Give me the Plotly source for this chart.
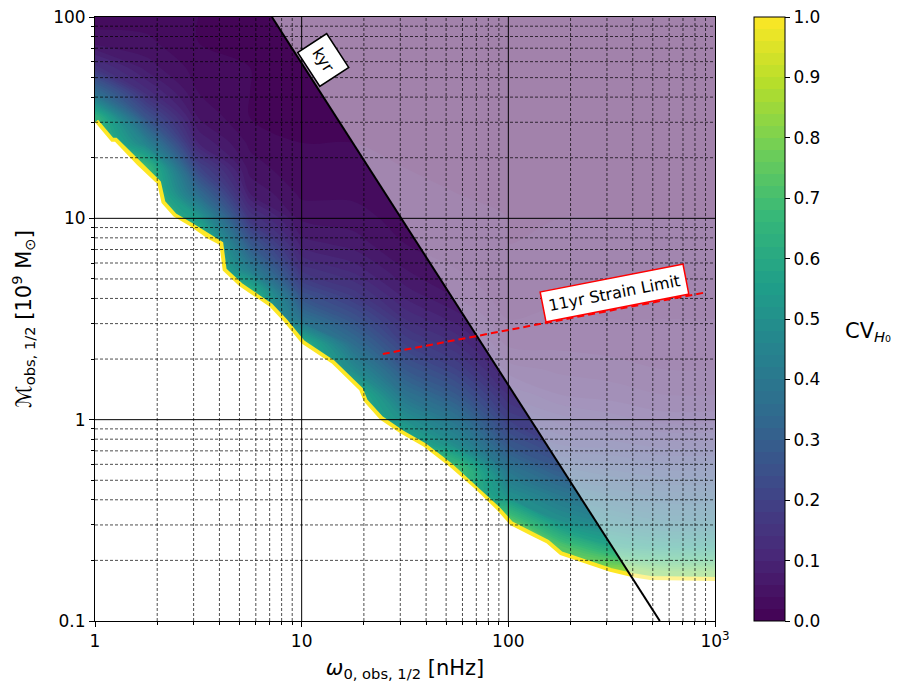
import numpy as np
import plotly.graph_objects as go

viridis_top = '#fde725'

# CV map grid (quarter decade in omega, eighth decade in mass)
omega_grid = [1.0, 1.778, 3.162, 5.623, 10.0, 17.78, 31.62, 56.23, 100.0, 177.8, 316.2, 562.3, 1000.0]
mass_grid = [0.1, 0.1334, 0.1778, 0.2371, 0.3162, 0.4217, 0.5623, 0.7499, 1.0, 1.334, 1.778, 2.371,
             3.162, 4.217, 5.623, 7.499, 10.0, 13.34, 17.78, 23.71, 31.62, 42.17, 56.23, 74.99, 100.0]

# CV_H0, one list per omega column, from M=0.1 up to M=100
# (cells under the white region only set the colour right at the edge)
cv_columns = [
    [0.7, 0.7, 0.7, 0.7, 0.7, 0.7, 0.7, 0.7, 0.7, 0.7, 0.7, 0.7, 0.7, 0.7, 0.7, 0.7, 0.7, 0.7, 0.7, 0.7, 0.66, 0.36, 0.15, 0.05, 0.03],
    [0.7, 0.7, 0.7, 0.7, 0.7, 0.7, 0.7, 0.7, 0.7, 0.7, 0.7, 0.7, 0.7, 0.7, 0.7, 0.7, 0.7, 0.7, 0.68, 0.44, 0.26, 0.13, 0.07, 0.045, 0.03],
    [0.7, 0.7, 0.7, 0.7, 0.7, 0.7, 0.7, 0.7, 0.7, 0.7, 0.7, 0.7, 0.7, 0.7, 0.7, 0.7, 0.54, 0.35, 0.21, 0.1, 0.06, 0.04, 0.03, 0.02, 0.02],
    [0.66, 0.66, 0.66, 0.66, 0.66, 0.66, 0.66, 0.66, 0.66, 0.66, 0.66, 0.66, 0.66, 0.66, 0.42, 0.28, 0.16, 0.08, 0.05, 0.035, 0.02, 0.02, 0.02, 0.02, 0.02],
    [0.64, 0.64, 0.64, 0.64, 0.64, 0.64, 0.64, 0.64, 0.64, 0.64, 0.64, 0.64, 0.38, 0.25, 0.15, 0.09, 0.055, 0.035, 0.025, 0.02, 0.02, 0.02, 0.02, 0.02, 0.02],
    [0.64, 0.64, 0.64, 0.64, 0.64, 0.64, 0.64, 0.64, 0.64, 0.64, 0.48, 0.36, 0.26, 0.17, 0.11, 0.07, 0.05, 0.035, 0.025, 0.02, 0.02, 0.02, 0.02, 0.02, 0.02],
    [0.64, 0.64, 0.64, 0.64, 0.64, 0.64, 0.64, 0.64, 0.5, 0.38, 0.28, 0.2, 0.14, 0.09, 0.06, 0.04, 0.03, 0.025, 0.02, 0.02, 0.02, 0.02, 0.02, 0.02, 0.02],
    [0.7, 0.7, 0.7, 0.7, 0.7, 0.7, 0.72, 0.48, 0.38, 0.28, 0.2, 0.14, 0.09, 0.055, 0.04, 0.03, 0.025, 0.02, 0.02, 0.02, 0.02, 0.02, 0.02, 0.02, 0.02],
    [0.74, 0.74, 0.74, 0.74, 0.74, 0.5, 0.39, 0.28, 0.2, 0.14, 0.09, 0.055, 0.04, 0.03, 0.025, 0.02, 0.02, 0.02, 0.02, 0.02, 0.02, 0.02, 0.02, 0.02, 0.02],
    [0.78, 0.78, 0.78, 0.72, 0.5, 0.4, 0.29, 0.2, 0.15, 0.1, 0.075, 0.055, 0.045, 0.035, 0.03, 0.025, 0.02, 0.02, 0.02, 0.02, 0.02, 0.02, 0.02, 0.02, 0.02],
    [0.85, 0.85, 0.84, 0.58, 0.44, 0.34, 0.26, 0.19, 0.13, 0.09, 0.07, 0.05, 0.04, 0.035, 0.03, 0.025, 0.02, 0.02, 0.02, 0.02, 0.02, 0.02, 0.02, 0.02, 0.02],
    [0.88, 0.88, 0.78, 0.54, 0.4, 0.31, 0.24, 0.17, 0.11, 0.08, 0.06, 0.05, 0.04, 0.035, 0.03, 0.025, 0.02, 0.02, 0.02, 0.02, 0.02, 0.02, 0.02, 0.02, 0.02],
    [0.88, 0.88, 0.78, 0.54, 0.4, 0.31, 0.24, 0.17, 0.11, 0.08, 0.06, 0.05, 0.04, 0.035, 0.03, 0.025, 0.02, 0.02, 0.02, 0.02, 0.02, 0.02, 0.02, 0.02, 0.02],
]

# lower edge of the detectable region (white below)
bound_omega = [1.0, 1.2, 1.25, 1.6, 1.95, 2.0, 2.1, 2.4, 2.9, 3.5, 4.0, 4.15, 5.0, 6.1, 7.0, 8.2, 10, 14,
               19, 20, 24, 30, 39, 52, 70, 88, 102, 132, 153, 178, 222, 310, 400, 485, 1000]
bound_mass = [30, 24, 24, 18.4, 15.2, 14.9, 11.9, 10.2, 9.1, 7.95, 7.4, 5.5, 4.6, 4.0, 3.64, 3.06, 2.39, 1.9,
              1.4, 1.23, 1.0, 0.855, 0.733, 0.583, 0.447, 0.356, 0.30, 0.262, 0.243, 0.2125, 0.197, 0.1755,
              0.165, 0.16, 0.158]

# kyr line and 11yr strain limit
kyr_omega = [7.18, 541]
kyr_mass = [100, 0.1]
strain_omega = [24.7, 914]
strain_mass = [2.12, 4.3]

z = np.array(cv_columns).T

fig = go.Figure()

fig.add_trace(go.Contour(
    x=omega_grid, y=mass_grid, z=z,
    colorscale='Viridis', zmin=0, zmax=1,
    contours=dict(start=0, end=1, size=0.02, showlines=False),
    line=dict(width=0),
    colorbar=dict(
        x=1.063, xanchor='left', y=0.5, yanchor='middle', len=1, lenmode='fraction',
        xpad=0, ypad=0, thickness=31, outlinewidth=1, outlinecolor='black',
        tickvals=[0, 0.1, 0.2, 0.3, 0.4, 0.5, 0.6, 0.7, 0.8, 0.9, 1.0], tickformat='.1f',
        ticks='outside', ticklen=5, tickcolor='black', ticklabeloverflow='allow',
        tickfont=dict(family='DejaVu Sans', size=17, color='black'),
    ),
    hoverinfo='skip',
))

# bright edge along the boundary, then white below it
fig.add_trace(go.Scatter(x=bound_omega, y=bound_mass, mode='lines',
                         line=dict(color=viridis_top, width=8), hoverinfo='skip'))
fig.add_trace(go.Scatter(x=bound_omega + [1000, 1], y=bound_mass + [0.09, 0.09], mode='lines',
                         fill='toself', fillcolor='white', line=dict(width=0), hoverinfo='skip'))

# faded region right of the kyr line
fig.add_trace(go.Scatter(x=kyr_omega + [1000, 1000], y=kyr_mass + [0.1, 100], mode='lines',
                         fill='toself', fillcolor='rgba(255,255,255,0.5)', line=dict(width=0),
                         hoverinfo='skip'))

# grid on top of everything
major_x = [10, 100]
major_y = [1, 10]
minor_x = [m * 10 ** e for e in range(0, 3) for m in range(2, 10)]
minor_y = [m * 10.0 ** e for e in range(-1, 2) for m in range(2, 10)]

def grid_xy(xs, ys):
    gx, gy = [], []
    for v in xs:
        gx += [v, v, None]
        gy += [0.1, 100, None]
    for v in ys:
        gx += [1, 1000, None]
        gy += [v, v, None]
    return gx, gy

gx, gy = grid_xy(minor_x, minor_y)
fig.add_trace(go.Scatter(x=gx, y=gy, mode='lines', line=dict(color='black', width=0.7, dash='3px,2px'),
                         hoverinfo='skip'))
gx, gy = grid_xy(major_x, major_y)
fig.add_trace(go.Scatter(x=gx, y=gy, mode='lines', line=dict(color='black', width=1), hoverinfo='skip'))

fig.add_trace(go.Scatter(x=kyr_omega, y=kyr_mass, mode='lines', line=dict(color='black', width=2),
                         hoverinfo='skip'))
fig.add_trace(go.Scatter(x=strain_omega, y=strain_mass, mode='lines',
                         line=dict(color='red', width=2, dash='7px,4px'), hoverinfo='skip'))

fig.add_annotation(x=np.log10(12.7), y=np.log10(61), text='kyr', textangle=57, showarrow=False,
                   font=dict(family='DejaVu Sans', size=16, color='black'),
                   bgcolor='white', bordercolor='black', borderwidth=1.5, borderpad=7)
fig.add_annotation(x=np.log10(328), y=np.log10(4.25), text='11yr Strain Limit', textangle=-11,
                   showarrow=False, font=dict(family='DejaVu Sans', size=16, color='black'),
                   bgcolor='white', bordercolor='red', borderwidth=1.5, borderpad=5)
fig.add_annotation(xref='paper', yref='paper', x=1.206, xanchor='left', y=0.478,
                   text='CV<sub><i>H</i>₀</sub>',
                   showarrow=False, font=dict(family='DejaVu Sans', size=21, color='black'))

axis_font = dict(family='DejaVu Sans', size=17, color='black')
fig.update_xaxes(type='log', range=[0, 3], showgrid=False, zeroline=False, automargin=False,
                 showline=True, linecolor='black', linewidth=1, mirror=True,
                 ticks='outside', ticklen=5, tickcolor='black', ticklabeloverflow='allow',
                 tickvals=[1, 10, 100, 1000], ticktext=['1', '10', '100', '10<sup>3</sup>'],
                 tickfont=axis_font,
                 minor=dict(ticks='outside', ticklen=3, tickcolor='black', tickvals=minor_x, showgrid=False),
                 title=dict(text='<i>ω</i><sub>0, obs, 1/2</sub> [nHz]', standoff=9,
                            font=dict(family='DejaVu Sans', size=21, color='black')))
fig.update_yaxes(type='log', range=[-1, 2], showgrid=False, zeroline=False, automargin=False,
                 showline=True, linecolor='black', linewidth=1, mirror=True,
                 ticks='outside', ticklen=5, tickcolor='black', ticklabeloverflow='allow',
                 tickvals=[0.1, 1, 10, 100], ticktext=['0.1', '1', '10', '100'],
                 tickfont=axis_font,
                 minor=dict(ticks='outside', ticklen=3, tickcolor='black', tickvals=minor_y, showgrid=False),
                 title=dict(text='ℳ<sub>obs, 1/2</sub> [10<sup>9</sup> M<sub>⊙</sub>]', standoff=16,
                            font=dict(family='DejaVu Sans', size=21, color='black')))

# page body adds 8px, so the figure is 8px smaller and shifted
fig.update_layout(width=893, height=688, showlegend=False,
                  margin=dict(l=87, r=186, t=9, b=75, autoexpand=False),
                  plot_bgcolor='white', paper_bgcolor='white')

fig.write_html('out.html')
